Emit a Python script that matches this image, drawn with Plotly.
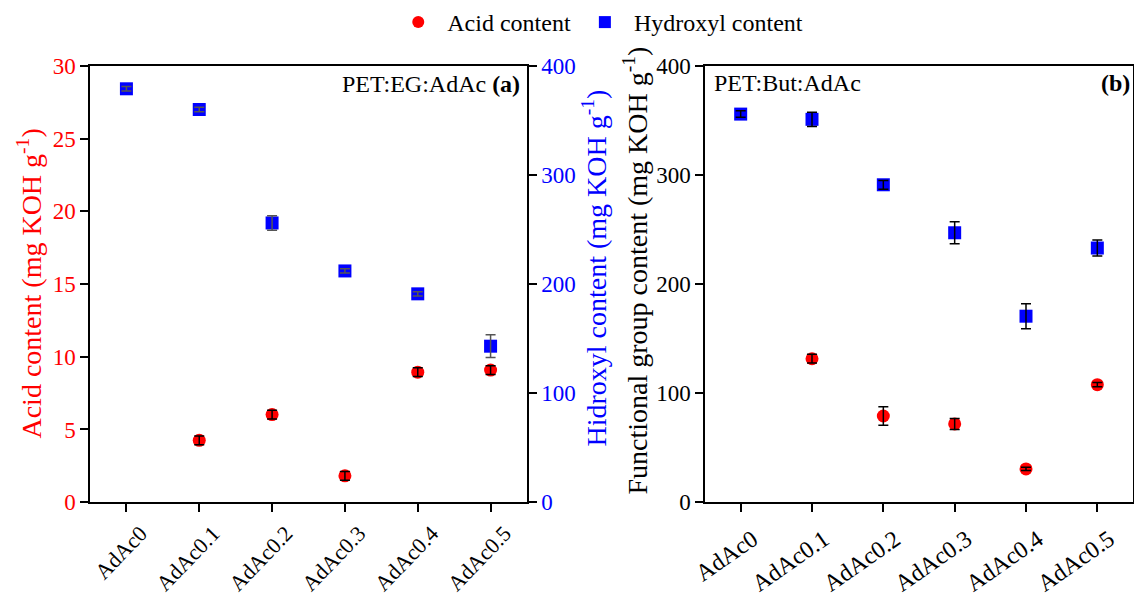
import plotly.graph_objects as go

categories = ["AdAc0", "AdAc0.1", "AdAc0.2", "AdAc0.3", "AdAc0.4", "AdAc0.5"]

# Panel (a): PET:EG:AdAc
acid_a = [None, 4.25, 6.02, 1.81, 8.94, 9.08]
acid_a_err = [0, 0.3, 0.3, 0.3, 0.3, 0.3]
hydroxyl_a = [379, 360, 256, 212, 191, 143]
hydroxyl_a_err = [2, 2, 6.7, 2, 2, 10.4]

# Panel (b): PET:But:AdAc
acid_b = [None, 131.5, 79, 71.7, 30.5, 107.7]
acid_b_err = [0, 4, 8.4, 5, 1.5, 2]
hydroxyl_b = [355.8, 351, 291, 247, 170.5, 233]
hydroxyl_b_err = [3, 6.5, 4, 10, 11.5, 7.3]

FONT = "Liberation Serif"
RED = "#ff0000"
BLUE = "#0000ff"
W, H = 1134, 597

fig = go.Figure()


def add_series(x, y, err, color, symbol, name, xa, ya, showlegend, errcolor):
    fig.add_trace(go.Scatter(
        x=x, y=y, mode="markers", name=name, showlegend=showlegend,
        marker=dict(color=color, symbol=symbol, size=13),
        xaxis=xa, yaxis=ya, cliponaxis=False))
    fig.add_trace(go.Scatter(
        x=x, y=y, mode="markers", showlegend=False, hoverinfo="skip",
        marker=dict(color="rgba(0,0,0,0)", size=13),
        error_y=dict(type="data", array=err, visible=True, color=errcolor,
                     thickness=1.5, width=5),
        xaxis=xa, yaxis=ya, cliponaxis=False))


add_series(categories, acid_a, acid_a_err, RED, "circle", "Acid content", "x", "y", True, "#000000")
add_series(categories, hydroxyl_a, hydroxyl_a_err, BLUE, "square", "Hydroxyl content", "x", "y2", True, "#555555")
add_series(categories, acid_b, acid_b_err, RED, "circle", "Acid content", "x2", "y3", False, "#000000")
add_series(categories, hydroxyl_b, hydroxyl_b_err, BLUE, "square", "Hydroxyl content", "x2", "y3", False, "#000000")

ybot = 1 - 502 / H
ytop = 1 - 65 / H

common_x = dict(
    type="category", range=[-0.5, 5.5], showline=True, linecolor="black", linewidth=1.5,
    mirror=True, ticks="outside", ticklen=8, tickwidth=1.5, tickcolor="black",
    tickfont=dict(family=FONT, size=24, color="black"),
    showgrid=False, zeroline=False, automargin=False)

common_y = dict(
    showline=True, linecolor="black", linewidth=1.5, ticks="outside", ticklen=8,
    tickwidth=1.5, tickcolor="black", showgrid=False, zeroline=False, automargin=False)

fig.update_layout(
    width=W, height=H, autosize=False,
    margin=dict(l=0, r=0, t=0, b=0),
    paper_bgcolor="white", plot_bgcolor="white",
    font=dict(family=FONT, size=20, color="black"),
    xaxis=dict(common_x, domain=[90 / W, 527 / W], anchor="y", tickangle=-46,
               ticklabelshift=14, ticklabelstandoff=0,
               tickfont=dict(family=FONT, size=22, color="black")),
    yaxis=dict(common_y, domain=[ybot, ytop], range=[0, 30], dtick=5, anchor="x",
               tickfont=dict(family=FONT, size=23, color=RED)),
    yaxis2=dict(common_y, range=[0, 400], dtick=100, overlaying="y", side="right", anchor="x",
                tickfont=dict(family=FONT, size=23, color=BLUE)),
    xaxis2=dict(common_x, domain=[705 / W, 1133 / W], anchor="y3", tickangle=-35,
                ticklabelshift=12, ticklabelstandoff=4),
    yaxis3=dict(common_y, domain=[ybot, ytop], range=[0, 400], dtick=100, anchor="x2",
                mirror=True, tickfont=dict(family=FONT, size=23, color="black")),
    legend=dict(orientation="h", x=0.528, xanchor="center", y=1 - 22 / H, yanchor="middle",
                font=dict(family=FONT, size=24, color="black"), bgcolor="rgba(0,0,0,0)",
                itemsizing="constant", itemwidth=48),
)

# axis titles
fig.add_annotation(xref="paper", yref="paper", x=30 / W, y=1 - 283 / H, xanchor="center", yanchor="middle",
                   textangle=-90, showarrow=False, text="Acid content (mg KOH g<sup>-1</sup>)",
                   font=dict(family=FONT, size=28, color=RED))
fig.add_annotation(xref="paper", yref="paper", x=595 / W, y=1 - 268 / H, xanchor="center", yanchor="middle",
                   textangle=-90, showarrow=False, text="Hidroxyl content (mg KOH g<sup>-1</sup>)",
                   font=dict(family=FONT, size=28, color=BLUE))
fig.add_annotation(xref="paper", yref="paper", x=636 / W, y=1 - 270 / H, xanchor="center", yanchor="middle",
                   textangle=-90, showarrow=False, text="Functional group content (mg KOH g<sup>-1</sup>)",
                   font=dict(family=FONT, size=28, color="black"))

# panel labels
fig.add_annotation(xref="x domain", yref="y domain", x=0.989, y=0.959, xanchor="right", yanchor="middle",
                   text="PET:EG:AdAc <b>(a)</b>", showarrow=False,
                   font=dict(family=FONT, size=24, color="black"))
fig.add_annotation(xref="x2 domain", yref="y3 domain", x=0.016, y=0.961, xanchor="left", yanchor="middle",
                   text="PET:But:AdAc", showarrow=False,
                   font=dict(family=FONT, size=24, color="black"))
fig.add_annotation(xref="x2 domain", yref="y3 domain", x=0.998, y=0.961, xanchor="right", yanchor="middle",
                   text="<b>(b)</b>", showarrow=False,
                   font=dict(family=FONT, size=24, color="black"))

fig.write_html("out.html")
